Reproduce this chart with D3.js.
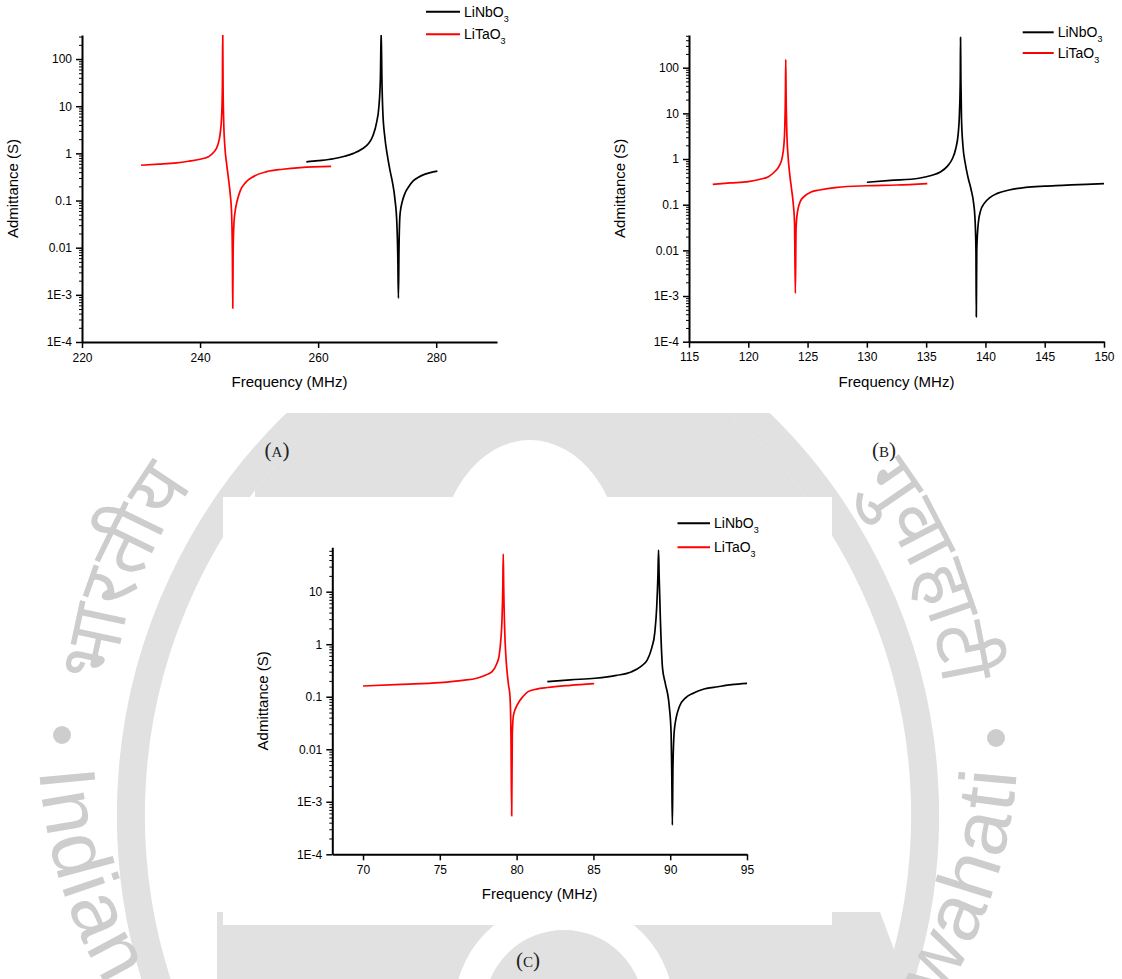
<!DOCTYPE html>
<html>
<head>
<meta charset="utf-8">
<script src="https://cdn.jsdelivr.net/npm/d3@7/dist/d3.min.js"></script>
<style>
  body { margin: 0; background: #fff; }
  svg text { font-family: "Liberation Sans", Arial, sans-serif; }
</style>
</head>
<body>
<svg id="page" width="1122" height="979"></svg>
<script>
// Admittance vs frequency, three resonator designs (A, B, C)

// series names / colours
const seriesNames = ["LiNbO", "LiTaO"];
const seriesColors = ["#000000", "#ff0000"];

// log axis ticks
const yTickValues = [1e-4, 1e-3, 0.01, 0.1, 1, 10, 100];
const yTickLabels = ["1E-4", "1E-3", "0.01", "0.1", "1", "10", "100"];

// frequency ticks (MHz)
const xTicksA = [220, 240, 260, 280];
const xTicksB = [115, 120, 125, 130, 135, 140, 145, 150];
const xTicksC = [70, 75, 80, 85, 90, 95];

// [frequency MHz, admittance S]
const aNbO3 = [[258, 0.66], [260, 0.70], [262.6, 0.77], [264.5, 0.87], [266, 1.0], [267.5, 1.25],
  [268.5, 1.6], [269.3, 2.4], [269.9, 4.5], [270.3, 10], [270.55, 40], [270.68, 400], [270.8, 40],
  [270.95, 8], [271.3, 2.2], [271.7, 0.95], [272.2, 0.42], [272.6, 0.24], [273.0, 0.11],
  [273.35, 0.03], [273.5, 0.006], [273.6, 8.5e-4], [273.7, 0.01], [273.8, 0.035], [273.9, 0.055],
  [274.3, 0.1], [274.75, 0.146], [275.4, 0.2], [276.1, 0.26], [277, 0.31], [277.8, 0.35],
  [279, 0.39], [280.2, 0.42]];
const aTaO3 = [[230, 0.56], [233, 0.59], [236, 0.63], [238, 0.68], [240, 0.75], [241.5, 0.86],
  [242.3, 1.05], [243.0, 1.5], [243.4, 2.6], [243.65, 6], [243.78, 25], [243.84, 400], [243.9, 25],
  [244.0, 5], [244.2, 1.4], [244.5, 0.6], [244.8, 0.3], [245.1, 0.14], [245.35, 0.05],
  [245.48, 0.006], [245.54, 5.2e-4], [245.6, 0.008], [245.75, 0.035], [245.95, 0.06], [246.3, 0.1],
  [246.8, 0.16], [247.7, 0.24], [249, 0.32], [251.3, 0.41], [254, 0.46], [257, 0.5], [262.2, 0.53]];

const bNbO3 = [[130, 0.31], [132, 0.34], [134.4, 0.38], [135.5, 0.44], [136.2, 0.52], [136.8, 0.7],
  [137.2, 1.0], [137.5, 1.7], [137.7, 3.5], [137.82, 12], [137.88, 60], [137.9, 460], [137.93, 60],
  [137.98, 8], [138.1, 2], [138.3, 0.8], [138.55, 0.38], [138.8, 0.21], [139.0, 0.11],
  [139.12, 0.05], [139.2, 0.01], [139.23, 3.5e-4], [139.27, 0.01], [139.4, 0.04], [139.6, 0.075],
  [139.9, 0.107], [140.4, 0.145], [141, 0.177], [142, 0.21], [143.4, 0.24], [145, 0.255],
  [146.5, 0.265], [148.5, 0.28], [150, 0.29]];
const bTaO3 = [[117, 0.28], [118.5, 0.30], [120, 0.32], [121, 0.36], [121.7, 0.41], [122.2, 0.52],
  [122.6, 0.7], [122.85, 1.05], [123.0, 2.0], [123.08, 5], [123.13, 25], [123.16, 150],
  [123.19, 25], [123.25, 4], [123.35, 1.2], [123.5, 0.45], [123.65, 0.22], [123.8, 0.1],
  [123.9, 0.04], [123.97, 1.15e-3], [124.03, 0.03], [124.15, 0.07], [124.4, 0.12], [124.7, 0.15],
  [125.3, 0.19], [126, 0.21], [127.5, 0.24], [130, 0.26], [132.5, 0.27], [135.1, 0.29]];

const cNbO3 = [[82, 0.194], [83.5, 0.21], [85.1, 0.225], [86.5, 0.255], [87.5, 0.3], [88.1, 0.38],
  [88.5, 0.5], [88.8, 0.85], [89.0, 1.7], [89.12, 5], [89.2, 20], [89.24, 62], [89.28, 20],
  [89.36, 3], [89.5, 0.35], [89.68, 0.18], [89.94, 0.065], [90.06, 0.02], [90.1, 0.004],
  [90.14, 3.6e-4], [90.18, 0.005], [90.28, 0.025], [90.6, 0.065], [91, 0.095], [91.5, 0.117],
  [92.2, 0.14], [93.1, 0.155], [94, 0.17], [95.04, 0.18]];
const cTaO3 = [[70, 0.16], [72.5, 0.172], [75, 0.186], [76.5, 0.205], [77.4, 0.225], [78.0, 0.26],
  [78.4, 0.30], [78.7, 0.42], [78.86, 0.6], [78.98, 1.3], [79.05, 3], [79.1, 12], [79.13, 52],
  [79.16, 12], [79.22, 2], [79.3, 0.6], [79.37, 0.32], [79.47, 0.17], [79.57, 0.1], [79.63, 0.02],
  [79.68, 5.4e-4], [79.72, 0.02], [79.8, 0.045], [80.1, 0.075], [80.4, 0.1], [80.75, 0.125],
  [81.3, 0.14], [82, 0.15], [83.5, 0.165], [85.05, 0.178]];

// layout of the three panels
const panels = [
  { key: "A", left: 82, right: 497, top: 35, bottom: 342, xDomain: [220, 290.3], yMax: Math.pow(10, 2.51),
    xTicks: xTicksA, series: [aNbO3, aTaO3], legendX: 426, legendLen: 34, legendY: [11.7, 34.3],
    label: "A", labelX: 277, labelY: 450 },
  { key: "B", left: 689, right: 1104, top: 35, bottom: 341.7, xDomain: [115, 150], yMax: Math.pow(10, 2.716),
    xTicks: xTicksB, series: [bNbO3, bTaO3], legendX: 1022.7, legendLen: 31, legendY: [32.3, 53],
    label: "B", labelX: 884, labelY: 450 },
  { key: "C", left: 332.3, right: 747, top: 547.3, bottom: 854.3, xDomain: [68, 95], yMax: Math.pow(10, 1.845),
    xTicks: xTicksC, series: [cNbO3, cTaO3], legendX: 677.5, legendLen: 32.5, legendY: [523.3, 547.3],
    label: "C", labelX: 528, labelY: 960 }
];

const svg = d3.select("#page");
const defs = svg.append("defs");
const wmGray = "#e1e1e1";
const wmText = "#cdcdcd";

// ---- background watermark (institute seal) ----
const wm = svg.append("g").attr("class", "watermark");
const cx = 528, cy = 736;

// upper part of the inner lens, with its white dome
wm.append("path")
  .attr("d", "M528,303 A534,534 0 0 0 244,505 L812,505 A534,534 0 0 0 528,303 Z")
  .attr("fill", wmGray);
wm.append("ellipse").attr("cx", 530).attr("cy", 565).attr("rx", 92).attr("ry", 125).attr("fill", "#fff");

// lower part
wm.append("path")
  .attr("d", "M217,912 L880,912 L905,979 L217,979 Z")
  .attr("fill", wmGray);
wm.append("circle").attr("cx", 564).attr("cy", 1010).attr("r", 95)
  .attr("fill", "none").attr("stroke", "#fff").attr("stroke-width", 30);

// two crossing bands
wm.append("path").attr("d", "M492,300 A548,548 0 0 0 163,1000")
  .attr("fill", "none").attr("stroke", wmGray).attr("stroke-width", 28);
wm.append("path").attr("d", "M564,300 A548,548 0 0 1 893,1000")
  .attr("fill", "none").attr("stroke", wmGray).attr("stroke-width", 28);

wm.append("circle").attr("cx", 62).attr("cy", 735).attr("r", 9).attr("fill", wmText);
wm.append("circle").attr("cx", 996).attr("cy", 738).attr("r", 9).attr("fill", wmText);

// text runs along the seal rim; only the parts below the top panels are shown
const rt = 418, rb = 490;
const c50 = Math.cos(50 * Math.PI / 180), s50 = Math.sin(50 * Math.PI / 180);
const c60 = Math.cos(60 * Math.PI / 180), s60 = Math.sin(60 * Math.PI / 180);
defs.append("path").attr("id", "arcTopLeft")
  .attr("d", `M${cx - rt},${cy} A${rt},${rt} 0 0 1 ${cx - rt * c50},${cy - rt * s50}`);
defs.append("path").attr("id", "arcTopRight")
  .attr("d", `M${cx + rt * c50},${cy - rt * s50} A${rt},${rt} 0 0 1 ${cx + rt},${cy}`);
defs.append("path").attr("id", "arcBottomLeft")
  .attr("d", `M${cx - rb},${cy} A${rb},${rb} 0 0 0 ${cx - rb * c60},${cy + rb * s60}`);
defs.append("path").attr("id", "arcBottomRight")
  .attr("d", `M${cx + rb * c60},${cy + rb * s60} A${rb},${rb} 0 0 0 ${cx + rb},${cy}`);

const arcLenTop = rt * 50 * Math.PI / 180;
const arcLenBottom = rb * 60 * Math.PI / 180;

function rimText(id, str, size, offset, anchor, family) {
  const t = wm.append("text").attr("font-size", size).attr("fill", wmText);
  if (family) t.style("font-family", family);
  t.append("textPath").attr("href", "#" + id)
    .attr("startOffset", offset).attr("text-anchor", anchor)
    .attr("letter-spacing", family ? 0 : 2)
    .text(str);
}
const deva = "'Noto Sans Devanagari', 'Noto Sans', sans-serif";
rimText("arcTopLeft", "भारतीय", 78, 51, "start", deva);
rimText("arcTopRight", "गुवाहाटी", 76, arcLenTop - 51, "end", deva);
rimText("arcBottomLeft", "Indian", 80, 34, "start", null);
rimText("arcBottomRight", "Guwahati", 80, arcLenBottom - 34, "end", null);

// top half of the page and panel C have plain white backgrounds
svg.append("rect").attr("x", 0).attr("y", 0).attr("width", 1122).attr("height", 413).attr("fill", "#fff");
svg.append("rect").attr("x", 223).attr("y", 497).attr("width", 609).attr("height", 428).attr("fill", "#fff");

// ---- panels ----
function minorTicks(yMax) {
  const out = [];
  for (let e = -4; e <= 3; e++) {
    for (let k = 2; k <= 9; k++) {
      const v = k * Math.pow(10, e);
      if (v <= yMax) out.push(v);
    }
  }
  return out;
}

function drawPanel(p) {
  const g = svg.append("g").attr("class", "panel-" + p.key);

  const x = d3.scaleLinear().domain(p.xDomain).range([p.left, p.right]);
  const y = d3.scaleLog().domain([1e-4, p.yMax]).range([p.bottom, p.top]);

  defs.append("clipPath").attr("id", "clip" + p.key)
    .append("rect")
    .attr("x", p.left).attr("y", p.top)
    .attr("width", p.right - p.left).attr("height", p.bottom - p.top);

  const line = d3.line()
    .x(d => x(d[0]))
    .y(d => y(d[1]))
    .curve(d3.curveMonotoneX);

  // red first, black on top
  [1, 0].forEach(i => {
    g.append("path")
      .datum(p.series[i])
      .attr("clip-path", "url(#clip" + p.key + ")")
      .attr("fill", "none")
      .attr("stroke", seriesColors[i])
      .attr("stroke-width", 1.7)
      .attr("stroke-linejoin", "round")
      .attr("d", line);
  });

  // minor y ticks
  g.append("g")
    .attr("transform", `translate(${p.left},0)`)
    .call(d3.axisLeft(y).tickValues(minorTicks(p.yMax)).tickSize(3))
    .call(a => a.select(".domain").remove())
    .call(a => a.selectAll("text").remove())
    .call(a => a.selectAll("line").attr("stroke-width", 1));

  // major y ticks
  const majors = yTickValues.filter(v => v <= p.yMax);
  g.append("g")
    .attr("transform", `translate(${p.left},0)`)
    .call(d3.axisLeft(y).tickValues(majors).tickSizeInner(6).tickSizeOuter(0).tickPadding(4)
      .tickFormat(d => yTickLabels[yTickValues.indexOf(d)]))
    .call(a => a.select(".domain").attr("stroke-width", 2))
    .call(a => a.selectAll(".tick line").attr("stroke-width", 1.5))
    .call(a => a.selectAll("text").attr("font-size", 12).attr("fill", "#000")
      .style("font-family", "'Liberation Sans', Arial, sans-serif"));

  // x axis
  g.append("g")
    .attr("transform", `translate(0,${p.bottom})`)
    .call(d3.axisBottom(x).tickValues(p.xTicks).tickSizeInner(6).tickSizeOuter(0).tickPadding(5)
      .tickFormat(d3.format("d")))
    .call(a => a.select(".domain").attr("stroke-width", 2))
    .call(a => a.selectAll(".tick line").attr("stroke-width", 1.5))
    .call(a => a.selectAll("text").attr("font-size", 12).attr("fill", "#000")
      .style("font-family", "'Liberation Sans', Arial, sans-serif"));

  // axis titles
  g.append("text")
    .attr("x", (p.left + p.right) / 2).attr("y", p.bottom + 45)
    .attr("text-anchor", "middle").attr("font-size", 15)
    .text("Frequency (MHz)");
  const ty = (p.top + p.bottom) / 2;
  const tx = p.left - 64;
  g.append("text")
    .attr("transform", `translate(${tx},${ty}) rotate(-90)`)
    .attr("text-anchor", "middle").attr("font-size", 15)
    .text("Admittance (S)");

  // legend
  seriesNames.forEach((name, i) => {
    const ly = p.legendY[i];
    g.append("line")
      .attr("x1", p.legendX).attr("x2", p.legendX + p.legendLen)
      .attr("y1", ly).attr("y2", ly)
      .attr("stroke", seriesColors[i]).attr("stroke-width", 2);
    const t = g.append("text")
      .attr("x", p.legendX + p.legendLen + 4).attr("y", ly + 5)
      .attr("font-size", 14);
    t.append("tspan").text(name);
    t.append("tspan").attr("font-size", 9).attr("dy", 5).text("3");
  });

  // panel letter
  const lab = svg.append("text")
    .attr("x", p.labelX).attr("y", p.labelY + 7)
    .attr("text-anchor", "middle")
    .attr("fill", "#222")
    .style("font-family", "'Liberation Serif', 'DejaVu Serif', serif");
  lab.append("tspan").attr("font-size", 21).text("(");
  lab.append("tspan").attr("font-size", 15).text(p.label);
  lab.append("tspan").attr("font-size", 21).text(")");
}

panels.forEach(drawPanel);
</script>
</body>
</html>
